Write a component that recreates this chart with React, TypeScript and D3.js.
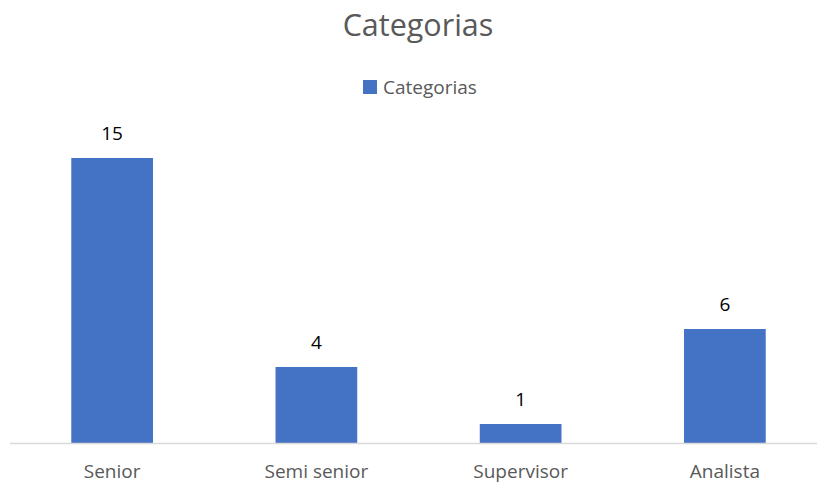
import React from "react";
import * as d3 from "d3";

const categories = ["Senior", "Semi senior", "Supervisor", "Analista"];
const values = [15, 4, 1, 6];
const seriesName = "Categorias";
const title = "Categorias";

const W = 817;
const H = 484;
const FONT = "'Open Sans', sans-serif";

export default function App() {
  const x = d3.scaleBand<string>().domain(categories).range([10, 827]).paddingInner(0.6).paddingOuter(0.3);
  const y = d3.scaleLinear().domain([0, 15]).range([443, 158]);
  return (
    <svg width={W} height={H} style={{ position: "absolute", left: 0, top: 0 }} fontFamily={FONT}>
      <rect width={W} height={H} fill="#fff" />
      <text x={418} y={36} textAnchor="middle" fontSize={30.5} fill="#595959">{title}</text>
      <rect x={363} y={80} width={14} height={14} fill="#4472C4" />
      <text x={383} y={94} fontSize={19} fill="#595959">{seriesName}</text>
      {categories.map((c, i) => (
        <g key={c}>
          <rect x={x(c)} y={y(values[i])} width={x.bandwidth()} height={y(0) - y(values[i])} fill="#4472C4" />
          <text x={(x(c) as number) + x.bandwidth() / 2} y={y(values[i]) - 18} textAnchor="middle" fontSize={19} fill="#000">{values[i]}</text>
          <text x={(x(c) as number) + x.bandwidth() / 2} y={478} textAnchor="middle" fontSize={19} fill="#595959">{c}</text>
        </g>
      ))}
      <line x1={10} x2={W} y1={y(0) + 0.5} y2={y(0) + 0.5} stroke="#D9D9D9" strokeWidth={1.5} />
    </svg>
  );
}
